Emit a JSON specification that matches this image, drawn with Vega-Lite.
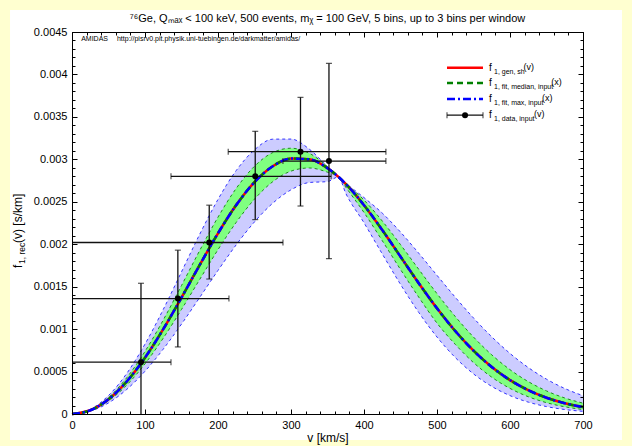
{
  "$schema": "https://vega.github.io/schema/vega-lite/v6.json",
  "width": 511,
  "height": 382,
  "autosize": {"type": "none"},
  "padding": {"left": 72, "top": 32, "right": 49, "bottom": 32},
  "background": "#ffffd0",
  "title": {"text": "⁷⁶Ge, Qₘₐₓ < 100 keV, 500 events, mᵪ = 100 GeV, 5 bins, up to 3 bins per window", "font": "Liberation Sans", "fontSize": 11, "fontWeight": "normal", "color": "black", "offset": -14, "anchor": "middle", "frame": "group"},
  "config": {
    "view": {"stroke": null},
    "font": "Liberation Sans",
    "axis": {"grid": false, "zindex": 1, "labelFont": "Liberation Sans", "labelFontSize": 11, "labelColor": "black", "tickColor": "black", "domainColor": "black", "tickWidth": 1, "labelFlush": false, "labelOverlap": false, "titleFont": "Liberation Sans", "titleFontWeight": "normal", "titleColor": "black", "titleFontSize": 12}
  },
  "datasets": {
    "curves": [
      {"v":0,"gen":0,"blo":0,"bhi":0,"glo":0,"ghi":0},
      {"v":25,"gen":0.0000438,"blo":0.0000330,"bhi":0.0000549,"glo":0.0000389,"ghi":0.0000490},
      {"v":50,"gen":0.0001735,"blo":0.0001307,"bhi":0.0002171,"glo":0.0001540,"ghi":0.0001937},
      {"v":75,"gen":0.0003833,"blo":0.0002897,"bhi":0.0004781,"glo":0.0003407,"ghi":0.0004273},
      {"v":100,"gen":0.0006633,"blo":0.0005038,"bhi":0.0008234,"glo":0.0005910,"ghi":0.0007377},
      {"v":125,"gen":0.0009991,"blo":0.0007643,"bhi":0.0012314,"glo":0.0008930,"ghi":0.0011074},
      {"v":150,"gen":0.0013712,"blo":0.0010591,"bhi":0.0016741,"glo":0.0012312,"ghi":0.0015132},
      {"v":175,"gen":0.0017565,"blo":0.0013737,"bhi":0.0021183,"glo":0.0015857,"ghi":0.0019273},
      {"v":200,"gen":0.0021289,"blo":0.0016913,"bhi":0.0025280,"glo":0.0019356,"ghi":0.0023191},
      {"v":225,"gen":0.0024619,"blo":0.0019937,"bhi":0.0028688,"glo":0.0022579,"ghi":0.0026584},
      {"v":250,"gen":0.0027315,"blo":0.0022632,"bhi":0.0031118,"glo":0.0025310,"ghi":0.0029186},
      {"v":275,"gen":0.0029179,"blo":0.0024832,"bhi":0.0032375,"glo":0.0027366,"ghi":0.0030796},
      {"v":300,"gen":0.0030087,"blo":0.0026407,"bhi":0.0032387,"glo":0.0028611,"ghi":0.0031308},
      {"v":325,"gen":0.0030000,"blo":0.0027269,"bhi":0.0031205,"glo":0.0028982,"ghi":0.0030720},
      {"v":350,"gen":0.0028963,"blo":0.0027382,"bhi":0.0029133,"glo":0.0028480,"ghi":0.0029132},
      {"v":365,"gen":0.0027935,"blo":0.0027935,"bhi":0.0027935,"glo":0.0027935,"ghi":0.0027935},
      {"v":375,"gen":0.0027103,"blo":0.0026000,"bhi":0.0027191,"glo":0.0026724,"ghi":0.0027178},
      {"v":400,"gen":0.0024601,"blo":0.0022525,"bhi":0.0025491,"glo":0.0023734,"ghi":0.0025207},
      {"v":425,"gen":0.0021674,"blo":0.0018861,"bhi":0.0023666,"glo":0.0020417,"ghi":0.0022736},
      {"v":450,"gen":0.0018542,"blo":0.0015273,"bhi":0.0021432,"glo":0.0017023,"ghi":0.0019953},
      {"v":475,"gen":0.0015411,"blo":0.0011963,"bhi":0.0018938,"glo":0.0013761,"ghi":0.0017045},
      {"v":500,"gen":0.0012446,"blo":0.0009068,"bhi":0.0016334,"glo":0.0010704,"ghi":0.0014177},
      {"v":525,"gen":0.0009771,"blo":0.0006654,"bhi":0.0013756,"glo":0.0008205,"ghi":0.0011485},
      {"v":550,"gen":0.0007458,"blo":0.0004727,"bhi":0.0011314,"glo":0.0006055,"ghi":0.0009065},
      {"v":575,"gen":0.0005536,"blo":0.0003252,"bhi":0.0009091,"glo":0.0004337,"ghi":0.0006972},
      {"v":600,"gen":0.0003997,"blo":0.0002167,"bhi":0.0007137,"glo":0.0003016,"ghi":0.0005225},
      {"v":625,"gen":0.0002808,"blo":0.0001399,"bhi":0.0005474,"glo":0.0002036,"ghi":0.0003817},
      {"v":650,"gen":0.0001919,"blo":0.0000875,"bhi":0.0004104,"glo":0.0001335,"ghi":0.0002719},
      {"v":675,"gen":0.0001276,"blo":0.0000530,"bhi":0.0003007,"glo":0.0000850,"ghi":0.0001888},
      {"v":700,"gen":0.0000826,"blo":0.0000311,"bhi":0.0002154,"glo":0.0000525,"ghi":0.0001279}
    ],
    "points": [
      {"v":94.5,"f":0.00061,"vlo":0,"vhi":135.6,"flo":-0.00032,"fhi":0.00154},
      {"v":145,"f":0.00136,"vlo":0,"vhi":215,"flo":0.00079,"fhi":0.00193},
      {"v":188,"f":0.00202,"vlo":0,"vhi":289,"flo":0.00159,"fhi":0.00246},
      {"v":251,"f":0.0028,"vlo":135.6,"vhi":355,"flo":0.00229,"fhi":0.00333},
      {"v":313,"f":0.00309,"vlo":214,"vhi":430,"flo":0.00245,"fhi":0.00373},
      {"v":352,"f":0.00298,"vlo":289,"vhi":430,"flo":0.00183,"fhi":0.00413}
    ],
    "one": [{}]
  },
  "resolve": {"axis": {"x": "independent", "y": "independent"}},
  "layer": [
    {
      "data": {"name": "one"},
      "layer": [
        {
          "mark": {"type": "rect", "fill": "white"},
          "encoding": {
            "x": {"datum": -84.9, "type": "quantitative", "scale": {"domain": [0, 700], "nice": false}},
            "x2": {"datum": 753.4},
            "y": {"datum": 0.004759, "type": "quantitative", "scale": {"domain": [0, 0.0045], "nice": false}},
            "y2": {"datum": -0.000306}
          }
        },
        {
          "data": {"name": "curves"},
          "mark": {"type": "area", "interpolate": "monotone", "fill": "#ccccff", "clip": true},
          "encoding": {
            "x": {"field": "v", "type": "quantitative", "axis": {"orient": "bottom", "zindex": 1, "values": [0,100,200,300,400,500,600,700], "tickSize": -5, "labelPadding": 10, "format": "d", "title": "v [km/s]", "titlePadding": 2, "domain": true}},
            "y": {"field": "blo", "type": "quantitative", "axis": {"orient": "left", "zindex": 1, "values": [0,0.0005,0.001,0.0015,0.002,0.0025,0.003,0.0035,0.004,0.0045], "tickSize": -5, "labelPadding": 10, "format": "~g", "title": null, "domain": true}},
            "y2": {"field": "bhi"}
          }
        },
        {
          "data": {"name": "curves"},
          "mark": {"type": "line", "interpolate": "monotone", "color": "#3333ff", "strokeWidth": 1, "strokeDash": [3, 3]},
          "encoding": {"x": {"field": "v", "type": "quantitative"}, "y": {"field": "blo", "type": "quantitative"}}
        },
        {
          "data": {"name": "curves"},
          "mark": {"type": "line", "interpolate": "monotone", "color": "#3333ff", "strokeWidth": 1, "strokeDash": [3, 3]},
          "encoding": {"x": {"field": "v", "type": "quantitative"}, "y": {"field": "bhi", "type": "quantitative"}}
        },
        {
          "data": {"name": "curves"},
          "mark": {"type": "area", "interpolate": "monotone", "fill": "#80ff80"},
          "encoding": {"x": {"field": "v", "type": "quantitative"}, "y": {"field": "glo", "type": "quantitative"}, "y2": {"field": "ghi"}}
        },
        {
          "data": {"name": "curves"},
          "mark": {"type": "line", "interpolate": "monotone", "color": "#208a20", "strokeWidth": 1, "strokeDash": [3, 3]},
          "encoding": {"x": {"field": "v", "type": "quantitative"}, "y": {"field": "glo", "type": "quantitative"}}
        },
        {
          "data": {"name": "curves"},
          "mark": {"type": "line", "interpolate": "monotone", "color": "#208a20", "strokeWidth": 1, "strokeDash": [3, 3]},
          "encoding": {"x": {"field": "v", "type": "quantitative"}, "y": {"field": "ghi", "type": "quantitative"}}
        },
        {
          "data": {"name": "curves"},
          "mark": {"type": "line", "interpolate": "monotone", "color": "#ff0000", "strokeWidth": 2.5},
          "encoding": {"x": {"field": "v", "type": "quantitative"}, "y": {"field": "gen", "type": "quantitative"}}
        },
        {
          "data": {"name": "curves"},
          "mark": {"type": "line", "interpolate": "monotone", "color": "#008000", "strokeWidth": 2.5, "strokeDash": [6, 4]},
          "encoding": {"x": {"field": "v", "type": "quantitative"}, "y": {"field": "gen", "type": "quantitative"}}
        },
        {
          "data": {"name": "curves"},
          "mark": {"type": "line", "interpolate": "monotone", "color": "#0000ff", "strokeWidth": 2.5, "strokeDash": [8, 3, 2, 3]},
          "encoding": {"x": {"field": "v", "type": "quantitative"}, "y": {"field": "gen", "type": "quantitative"}}
        },
        {
          "data": {"name": "points"},
          "mark": {"type": "rule", "color": "#111111", "strokeWidth": 1.3, "clip": true},
          "encoding": {"x": {"field": "v", "type": "quantitative"}, "y": {"field": "flo", "type": "quantitative"}, "y2": {"field": "fhi"}}
        },
        {
          "data": {"name": "points"},
          "mark": {"type": "rule", "color": "#111111", "strokeWidth": 1.3, "clip": true},
          "encoding": {"x": {"field": "vlo", "type": "quantitative"}, "x2": {"field": "vhi"}, "y": {"field": "f", "type": "quantitative"}}
        },
        {
          "data": {"name": "points"},
          "mark": {"type": "tick", "orient": "horizontal", "color": "#111111", "size": 6, "thickness": 1.2, "clip": true},
          "encoding": {"x": {"field": "v", "type": "quantitative"}, "y": {"field": "flo", "type": "quantitative"}}
        },
        {
          "data": {"name": "points"},
          "mark": {"type": "tick", "orient": "horizontal", "color": "#111111", "size": 6, "thickness": 1.2, "clip": true},
          "encoding": {"x": {"field": "v", "type": "quantitative"}, "y": {"field": "fhi", "type": "quantitative"}}
        },
        {
          "data": {"name": "points"},
          "mark": {"type": "tick", "orient": "vertical", "color": "#111111", "size": 6, "thickness": 1.2, "clip": true},
          "encoding": {"x": {"field": "vlo", "type": "quantitative"}, "y": {"field": "f", "type": "quantitative"}}
        },
        {
          "data": {"name": "points"},
          "mark": {"type": "tick", "orient": "vertical", "color": "#111111", "size": 6, "thickness": 1.2, "clip": true},
          "encoding": {"x": {"field": "vhi", "type": "quantitative"}, "y": {"field": "f", "type": "quantitative"}}
        },
        {
          "data": {"name": "points"},
          "mark": {"type": "point", "filled": true, "color": "black", "size": 36, "opacity": 1},
          "encoding": {"x": {"field": "v", "type": "quantitative"}, "y": {"field": "f", "type": "quantitative"}}
        },
        {
          "mark": {"type": "text", "align": "left", "baseline": "alphabetic", "fontSize": 7, "color": "black"},
          "encoding": {"x": {"datum": 12.5}, "y": {"datum": 0.004394}, "text": {"value": "AMIDAS"}}
        },
        {
          "mark": {"type": "text", "align": "left", "baseline": "alphabetic", "fontSize": 7, "color": "black"},
          "encoding": {"x": {"datum": 61.6}, "y": {"datum": 0.004394}, "text": {"value": "http://pisrv0.pit.physik.uni-tuebingen.de/darkmatter/amidas/"}}
        },
        {
          "mark": {"type": "rule", "color": "#ff0000", "strokeWidth": 2.5},
          "encoding": {"x": {"datum": 513.7}, "x2": {"datum": 563}, "y": {"datum": 0.00408}}
        },
        {
          "mark": {"type": "rule", "color": "#008000", "strokeWidth": 2.5, "strokeDash": [6, 4]},
          "encoding": {"x": {"datum": 513.7}, "x2": {"datum": 563}, "y": {"datum": 0.0039}}
        },
        {
          "mark": {"type": "rule", "color": "#0000ff", "strokeWidth": 2.5, "strokeDash": [8, 3, 2, 3]},
          "encoding": {"x": {"datum": 513.7}, "x2": {"datum": 563}, "y": {"datum": 0.00371}}
        },
        {
          "mark": {"type": "rule", "color": "#111111", "strokeWidth": 1.3},
          "encoding": {"x": {"datum": 513.7}, "x2": {"datum": 563}, "y": {"datum": 0.00352}}
        },
        {
          "mark": {"type": "tick", "orient": "vertical", "color": "#111111", "size": 6, "thickness": 1.2},
          "encoding": {"x": {"datum": 513.7}, "y": {"datum": 0.00352}}
        },
        {
          "mark": {"type": "tick", "orient": "vertical", "color": "#111111", "size": 6, "thickness": 1.2},
          "encoding": {"x": {"datum": 563}, "y": {"datum": 0.00352}}
        },
        {
          "mark": {"type": "point", "filled": true, "color": "black", "size": 36, "opacity": 1},
          "encoding": {"x": {"datum": 538.4}, "y": {"datum": 0.00352}}
        },
        {"mark": {"type": "text", "align": "left", "baseline": "alphabetic", "fontSize": 10, "dy": 3, "color": "black"}, "encoding": {"x": {"datum": 571.2}, "y": {"datum": 0.00408}, "text": {"value": "f"}}},
        {"mark": {"type": "text", "align": "left", "baseline": "alphabetic", "fontSize": 7, "dy": 6, "color": "black"}, "encoding": {"x": {"datum": 578.1}, "y": {"datum": 0.00408}, "text": {"value": "1, gen, sh"}}},
        {"mark": {"type": "text", "align": "left", "baseline": "alphabetic", "fontSize": 9, "dy": 2, "color": "black"}, "encoding": {"x": {"datum": 618.5}, "y": {"datum": 0.00408}, "text": {"value": "(v)"}}},
        {"mark": {"type": "text", "align": "left", "baseline": "alphabetic", "fontSize": 10, "dy": 3, "color": "black"}, "encoding": {"x": {"datum": 571.2}, "y": {"datum": 0.0039}, "text": {"value": "f"}}},
        {"mark": {"type": "text", "align": "left", "baseline": "alphabetic", "fontSize": 7, "dy": 6, "color": "black"}, "encoding": {"x": {"datum": 578.1}, "y": {"datum": 0.0039}, "text": {"value": "1, fit, median, input"}}},
        {"mark": {"type": "text", "align": "left", "baseline": "alphabetic", "fontSize": 9, "dy": 2, "color": "black"}, "encoding": {"x": {"datum": 656.5}, "y": {"datum": 0.0039}, "text": {"value": "(x)"}}},
        {"mark": {"type": "text", "align": "left", "baseline": "alphabetic", "fontSize": 10, "dy": 3, "color": "black"}, "encoding": {"x": {"datum": 571.2}, "y": {"datum": 0.00371}, "text": {"value": "f"}}},
        {"mark": {"type": "text", "align": "left", "baseline": "alphabetic", "fontSize": 7, "dy": 6, "color": "black"}, "encoding": {"x": {"datum": 578.1}, "y": {"datum": 0.00371}, "text": {"value": "1, fit, max, input"}}},
        {"mark": {"type": "text", "align": "left", "baseline": "alphabetic", "fontSize": 9, "dy": 2, "color": "black"}, "encoding": {"x": {"datum": 644}, "y": {"datum": 0.00371}, "text": {"value": "(x)"}}},
        {"mark": {"type": "text", "align": "left", "baseline": "alphabetic", "fontSize": 10, "dy": 3, "color": "black"}, "encoding": {"x": {"datum": 571.2}, "y": {"datum": 0.00352}, "text": {"value": "f"}}},
        {"mark": {"type": "text", "align": "left", "baseline": "alphabetic", "fontSize": 7, "dy": 6, "color": "black"}, "encoding": {"x": {"datum": 578.1}, "y": {"datum": 0.00352}, "text": {"value": "1, data, input"}}},
        {"mark": {"type": "text", "align": "left", "baseline": "alphabetic", "fontSize": 9, "dy": 2, "color": "black"}, "encoding": {"x": {"datum": 632.9}, "y": {"datum": 0.00352}, "text": {"value": "(v)"}}},
        {"mark": {"type": "text", "align": "left", "baseline": "alphabetic", "fontSize": 12, "angle": 270, "color": "black"}, "encoding": {"x": {"datum": -68.5}, "y": {"datum": 0.0017199}, "text": {"value": "f"}}},
        {"mark": {"type": "text", "align": "left", "baseline": "alphabetic", "fontSize": 8.5, "angle": 270, "color": "black"}, "encoding": {"x": {"datum": -64.4}, "y": {"datum": 0.001767}, "text": {"value": "1, rec"}}},
        {"mark": {"type": "text", "align": "left", "baseline": "alphabetic", "fontSize": 12, "angle": 270, "color": "black"}, "encoding": {"x": {"datum": -68.5}, "y": {"datum": 0.0020144}, "text": {"value": "(v) [s/km]"}}}
      ]
    },
    {
      "data": {"name": "curves"},
      "mark": {"type": "point", "opacity": 0},
      "encoding": {
        "x": {"field": "v", "type": "quantitative", "scale": {"domain": [0, 700], "nice": false}, "axis": {"orient": "top", "zindex": 1, "values": [0,100,200,300,400,500,600,700], "tickSize": -5, "labels": false, "title": null, "domain": true}},
        "y": {"field": "gen", "type": "quantitative", "scale": {"domain": [0, 0.0045], "nice": false}, "axis": {"orient": "right", "zindex": 1, "values": [0,0.0005,0.001,0.0015,0.002,0.0025,0.003,0.0035,0.004,0.0045], "tickSize": -5, "labels": false, "title": null, "domain": true}}
      }
    },
    {
      "data": {"name": "curves"},
      "mark": {"type": "point", "opacity": 0},
      "encoding": {
        "x": {"field": "v", "type": "quantitative", "scale": {"domain": [0, 700], "nice": false}, "axis": {"orient": "bottom", "zindex": 1, "values": [0,20,40,60,80,100,120,140,160,180,200,220,240,260,280,300,320,340,360,380,400,420,440,460,480,500,520,540,560,580,600,620,640,660,680,700], "tickSize": -3, "labels": false, "title": null, "domain": false}},
        "y": {"field": "gen", "type": "quantitative", "scale": {"domain": [0, 0.0045], "nice": false}, "axis": {"orient": "left", "zindex": 1, "values": [0,0.0001,0.0002,0.0003,0.0004,0.0005,0.0006,0.0007,0.0008,0.0009,0.001,0.0011,0.0012,0.0013,0.0014,0.0015,0.0016,0.0017,0.0018,0.0019,0.002,0.0021,0.0022,0.0023,0.0024,0.0025,0.0026,0.0027,0.0028,0.0029,0.003,0.0031,0.0032,0.0033,0.0034,0.0035,0.0036,0.0037,0.0038,0.0039,0.004,0.0041,0.0042,0.0043,0.0044,0.0045], "tickSize": -3, "labels": false, "title": null, "domain": false}}
      }
    },
    {
      "data": {"name": "curves"},
      "mark": {"type": "point", "opacity": 0},
      "encoding": {
        "x": {"field": "v", "type": "quantitative", "scale": {"domain": [0, 700], "nice": false}, "axis": {"orient": "top", "zindex": 1, "values": [0,20,40,60,80,100,120,140,160,180,200,220,240,260,280,300,320,340,360,380,400,420,440,460,480,500,520,540,560,580,600,620,640,660,680,700], "tickSize": -3, "labels": false, "title": null, "domain": false}},
        "y": {"field": "gen", "type": "quantitative", "scale": {"domain": [0, 0.0045], "nice": false}, "axis": {"orient": "right", "zindex": 1, "values": [0,0.0001,0.0002,0.0003,0.0004,0.0005,0.0006,0.0007,0.0008,0.0009,0.001,0.0011,0.0012,0.0013,0.0014,0.0015,0.0016,0.0017,0.0018,0.0019,0.002,0.0021,0.0022,0.0023,0.0024,0.0025,0.0026,0.0027,0.0028,0.0029,0.003,0.0031,0.0032,0.0033,0.0034,0.0035,0.0036,0.0037,0.0038,0.0039,0.004,0.0041,0.0042,0.0043,0.0044,0.0045], "tickSize": -3, "labels": false, "title": null, "domain": false}}
      }
    }
  ]
}
